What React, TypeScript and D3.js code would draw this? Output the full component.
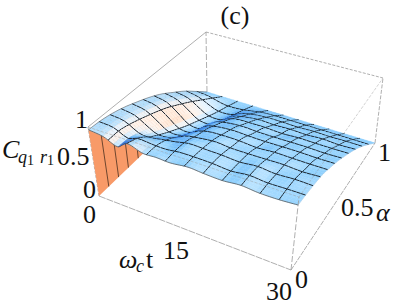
import React from "react";
import * as d3 from "d3";

const W = 393, H = 306;
// samples of the surface
const tSamples = [0, 0.07, 0.135, 0.18, 0.256, 0.32, 0.386, 0.473, 0.546, 0.638, 0.725, 0.81, 0.908, 1].map((f) => f * 30);
const alphaSamples = [0, 0.1, 0.2, 0.3, 0.4, 0.5, 0.6, 0.7, 0.8, 0.9, 1];
const concurrence = [
  [.96, .93, .85, .945, .88, .885, .875, .90, .885, .875, .895, .875, .875, .89],
  [.95, .93, .84, .88, .87, .865, .89, .89, .885, .865, .89, .87, .875, .875],
  [.92, .89, .78, .75, .79, .83, .87, .865, .86, .845, .865, .845, .855, .85],
  [.87, .83, .71, .64, .66, .765, .80, .83, .81, .81, .81, .82, .80, .815],
  [.80, .76, .63, .54, .55, .68, .75, .755, .76, .735, .755, .745, .75, .745],
  [.72, .68, .54, .44, .44, .61, .65, .68, .66, .67, .66, .67, .655, .665],
  [.62, .57, .44, .35, .35, .49, .56, .565, .57, .55, .57, .56, .565, .565],
  [.49, .45, .33, .26, .26, .38, .43, .455, .445, .455, .445, .46, .445, .455],
  [.35, .31, .22, .17, .18, .26, .30, .32, .32, .315, .325, .32, .325, .325],
  [.18, .16, .11, .09, .10, .13, .16, .17, .17, .17, .17, .17, .17, .17],
  [0, 0, 0, 0, 0, 0, 0, 0, 0, 0, 0, 0, 0, 0],
];
const meshCellsT = 11;
const meshCellsA = 11;
const sub = 4;

// box corners: [t index, alpha index] -> pixel
const floorC = { a: [99, 196], b: [291, 270], c: [375, 143], d: [207, 92] };
const roofC = { a: [88, 127], b: [299, 197], c: [383, 78], d: [206, 32] };
const tS = d3.scaleLinear().domain([0, 30]).range([0, 1]);
const aS = d3.scaleLinear().domain([0, 1]).range([0, 1]);
const zS = d3.scaleLinear().domain([0, 1]).range([0, 1]);

const lerp = (p: number[], q: number[], f: number) => [p[0] + (q[0] - p[0]) * f, p[1] + (q[1] - p[1]) * f];
function bil(c: any, u: number, v: number) {
  return lerp(lerp(c.a, c.b, u), lerp(c.d, c.c, u), v);
}
function project(t: number, al: number, z: number) {
  const u = tS(t), v = aS(al);
  return lerp(bil(floorC, u, v), bil(roofC, u, v), zS(z));
}

function hermite(xs: number[], ys: number[], x: number) {
  const n = xs.length;
  let i = d3.bisectRight(xs, x) - 1;
  i = Math.max(0, Math.min(n - 2, i));
  const h = xs[i + 1] - xs[i];
  const tan = (k: number) => {
    if (k === 0) return (ys[1] - ys[0]) / (xs[1] - xs[0]);
    if (k === n - 1) return (ys[n - 1] - ys[n - 2]) / (xs[n - 1] - xs[n - 2]);
    return (ys[k + 1] - ys[k - 1]) / (xs[k + 1] - xs[k - 1]);
  };
  const s = (x - xs[i]) / h;
  const s2 = s * s, s3 = s2 * s;
  return (2 * s3 - 3 * s2 + 1) * ys[i] + (s3 - 2 * s2 + s) * h * tan(i) + (-2 * s3 + 3 * s2) * ys[i + 1] + (s3 - s2) * h * tan(i + 1);
}
function surf(t: number, al: number) {
  const col = concurrence.map((row) => hermite(tSamples, row, t));
  return Math.max(0, hermite(alphaSamples, col, al));
}

const ramp = d3
  .scaleLinear<string>()
  .domain([-1.5, -1.1, -0.75, -0.25, 0.1, 0.45, 1.0])
  .range(["#ffe2cc", "#fff3ea", "#e6f4ff", "#b8e2ff", "#8fd0fd", "#5fadf7", "#2f74e0"])
  .clamp(true);

function path(pts: number[][]) {
  return "M" + pts.map((p) => p[0].toFixed(2) + "," + p[1].toFixed(2)).join("L");
}

function buildSurface() {
  const out: React.ReactNode[] = [];
  const nT = meshCellsT * sub, nA = meshCellsA * sub;
  const tOf = (i: number) => (30 * i) / nT;
  const aOf = (j: number) => j / nA;
  const pt = (i: number, j: number) => project(tOf(i), aOf(j), surf(tOf(i), aOf(j)));
  const grid: number[][][] = d3.range(nT + 1).map((i) => d3.range(nA + 1).map((j) => pt(i, j)));
  const lineC = "#1a2530";
  for (let i = 0; i < nT; i++) {
    for (let j = nA - 1; j >= 0; j--) {
      const tm = tOf(i + 0.5), am = aOf(j + 0.5);
      const dzdu = (surf(tOf(i + 1), am) - surf(tOf(i), am)) / (1 / nT);
      const dzda = (surf(tm, aOf(j + 1)) - surf(tm, aOf(j))) / (1 / nA);
      const val = dzdu * 0.55 - dzda * 0.13 - 0.08;
      const col = ramp(val);
      const poly = [grid[i][j], grid[i + 1][j], grid[i + 1][j + 1], grid[i][j + 1]];
      out.push(<path key={`c${i}-${j}`} d={path(poly) + "Z"} fill={col} stroke={col} strokeWidth={0.4} />);
      if (i % sub === 0 && i > 0) {
        out.push(<path key={`lt${i}-${j}`} d={path([grid[i][j], grid[i][j + 1]])} fill="none" stroke={lineC} strokeWidth={1} />);
      }
      if ((j + 1) % sub === 0 && j + 1 < nA) {
        out.push(<path key={`la${i}-${j}`} d={path([grid[i][j + 1], grid[i + 1][j + 1]])} fill="none" stroke={lineC} strokeWidth={1} />);
      }
    }
  }
  return out;
}

const boxStyle = { fill: "none", stroke: "#9a9a9a", strokeWidth: 0.8 };
const seg = (p: number[], q: number[], dash?: string) => (
  <path d={path([p, q])} {...boxStyle} strokeDasharray={dash} />
);

const serif = "'Liberation Serif', serif";

export default function App() {
  const wallTop = d3.range(0, 45).map((j) => project(0, j / 44, surf(0, j / 44)));
  const wallBottom = [project(0, 1, 0), project(0, 0, 0)];
  const wallLines = d3.range(1, meshCellsA).map((j) => {
    const a = j / meshCellsA;
    return path([project(0, a, 0), project(0, a, surf(0, a))]);
  });
  const edgeFront = d3.range(0, 89).map((i) => project((30 * i) / 88, 0, surf((30 * i) / 88, 0)));
  const edgeRight = d3.range(0, 45).map((j) => project(30, j / 44, surf(30, j / 44)));
  const edgeBack = d3.range(0, 45).map((j) => project(0, j / 44, surf(0, j / 44)));
  return (
    <svg width={W} height={H} style={{ position: "absolute", left: 0, top: 0, background: "#fff" }} fontFamily={serif} fill="#111">
      {seg(roofC.a, roofC.d)}
      {seg(roofC.d, roofC.c, "3 1.5")}
      {seg(floorC.c, roofC.c, "4 1.5")}
      {seg(floorC.d, roofC.d, "6 2")}
      {seg(floorC.a, roofC.a, "3 1.5")}
      <path d={path(wallTop.concat(wallBottom)) + "Z"} fill="#f89a68" stroke="none" />
      {wallLines.map((d, k) => (
        <path key={k} d={d} fill="none" stroke="#4a3020" strokeWidth={0.8} />
      ))}
      {buildSurface()}
      <path d={path(edgeBack)} fill="none" stroke="#555" strokeWidth={0.5} />
      <path d={path(edgeFront)} fill="none" stroke="#444" strokeWidth={0.7} />
      <path d={path(edgeRight)} fill="none" stroke="#bcd" strokeWidth={0.4} />
      {seg(floorC.a, floorC.b, "7 1")}
      {seg(floorC.b, floorC.c, "5 1")}
      {seg(floorC.b, roofC.b, "6 2")}
      <g opacity={0.55}>
        {seg(roofC.a, roofC.b, "3 1.5")}
        {seg(roofC.b, roofC.c, "3 1.5")}
      </g>
      <text x={235} y={24} fontSize={26} textAnchor="middle">(c)</text>
      <g fontSize={26}>
        <text x={75} y={128}>1</text>
        <text x={57} y={165}>0.5</text>
        <text x={83} y={198}>0</text>
        <text x={83} y={223}>0</text>
        <text x={163} y={259}>15</text>
        <text x={266} y={300}>30</text>
        <text x={295} y={288}>0</text>
        <text x={341} y={216}>0.5</text>
        <text x={378} y={161}>1</text>
        <text x={376} y={221} fontStyle="italic">α</text>
        <text x={2} y={158} fontStyle="italic">C</text>
        <text x={119} y={268} fontStyle="italic">ω</text>
        <text x={146} y={268}>t</text>
      </g>
      <g fontSize={18}>
        <text x={136} y={272} fontStyle="italic">c</text>
        <text x={18} y={163} fontStyle="italic">q</text>
        <text x={27} y={165} fontSize={14}>1</text>
        <text x={40} y={163} fontStyle="italic">r</text>
        <text x={47} y={165} fontSize={14}>1</text>
      </g>
    </svg>
  );
}
